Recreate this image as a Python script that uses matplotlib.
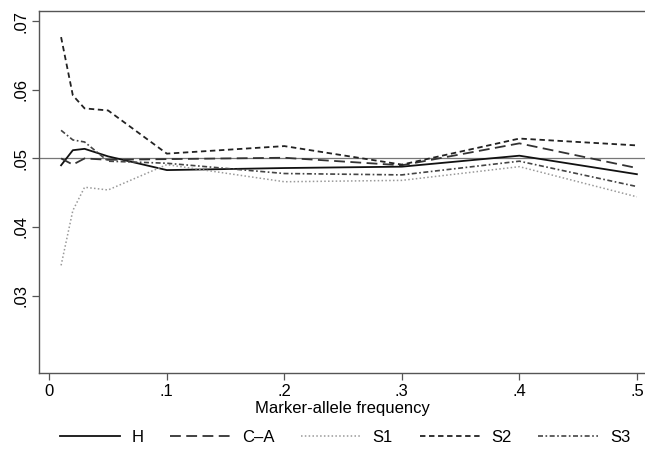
import matplotlib.pyplot as plt
import matplotlib.font_manager as fm

# marker-allele frequencies on the x axis
freq = [0.01, 0.02, 0.03, 0.05, 0.1, 0.2, 0.3, 0.4, 0.5]

# rejection rates
h_vals  = [0.0490, 0.0512, 0.0514, 0.0503, 0.0483, 0.0486, 0.0488, 0.0504, 0.0477]
ca_vals = [0.0500, 0.0491, 0.0500, 0.0498, 0.0499, 0.0501, 0.0490, 0.0522, 0.0486]
s1_vals = [0.0344, 0.0424, 0.0458, 0.0454, 0.0491, 0.0466, 0.0468, 0.0488, 0.0444]
s2_vals = [0.0677, 0.0592, 0.0573, 0.0570, 0.0507, 0.0518, 0.0491, 0.0529, 0.0519]
s3_vals = [0.0541, 0.0527, 0.0524, 0.0496, 0.0493, 0.0478, 0.0476, 0.0496, 0.0459]

xticks = [0, 0.1, 0.2, 0.3, 0.4, 0.5]
xtick_labels = ['0', '.1', '.2', '.3', '.4', '.5']
yticks = [0.03, 0.04, 0.05, 0.06, 0.07]
ytick_labels = ['.03', '.04', '.05', '.06', '.07']

names = [f.name for f in fm.fontManager.ttflist]
if 'Liberation Sans Narrow' in names:
    plt.rcParams['font.family'] = ['Liberation Sans Narrow', 'DejaVu Sans']
else:
    plt.rcParams['font.family'] = ['Liberation Sans', 'DejaVu Sans']

fs = 12

fig = plt.figure(figsize=(6.45, 4.53), dpi=100)
ax = fig.add_axes([0.061, 0.1766, 0.941, 0.799])

ax.axhline(0.05, color='#777777', lw=0.9, zorder=1)

ax.plot(freq, h_vals, color='#111111', lw=1.3, ls='-', label='H')
ax.plot(freq, ca_vals, color='#333333', lw=1.3, ls=(0, (6, 3)), label='C\u2013A')
ax.plot(freq, s1_vals, color='#999999', lw=1.1, ls=(0, (1, 1.5)), label='S1')
ax.plot(freq, s2_vals, color='#222222', lw=1.3, ls=(0, (3, 2)), label='S2')
ax.plot(freq, s3_vals, color='#444444', lw=1.2, ls=(0, (3, 1.5, 1, 1.5)), label='S3')

ax.set_xlim(-0.0085, 0.508)
ax.set_ylim(0.0187, 0.0715)
ax.set_xticks(xticks)
ax.set_xticklabels(xtick_labels, fontsize=fs)
ax.set_yticks(yticks)
ax.set_yticklabels(ytick_labels, fontsize=fs, rotation=90, va='center')
ax.tick_params(direction='out', length=5, width=0.9, color='#555555', pad=3)
ax.set_xlabel('Marker-allele frequency', fontsize=fs, labelpad=1)

for side in ['left', 'top', 'bottom']:
    ax.spines[side].set_color('#555555')
    ax.spines[side].set_linewidth(1.0)
ax.spines['right'].set_visible(False)

fig.legend(loc='lower center', bbox_to_anchor=(0.535, -0.016), ncol=5,
           frameon=False, fontsize=fs, handlelength=3.6, columnspacing=1.6,
           handletextpad=0.7)

fig.savefig('out.png', dpi=100)
